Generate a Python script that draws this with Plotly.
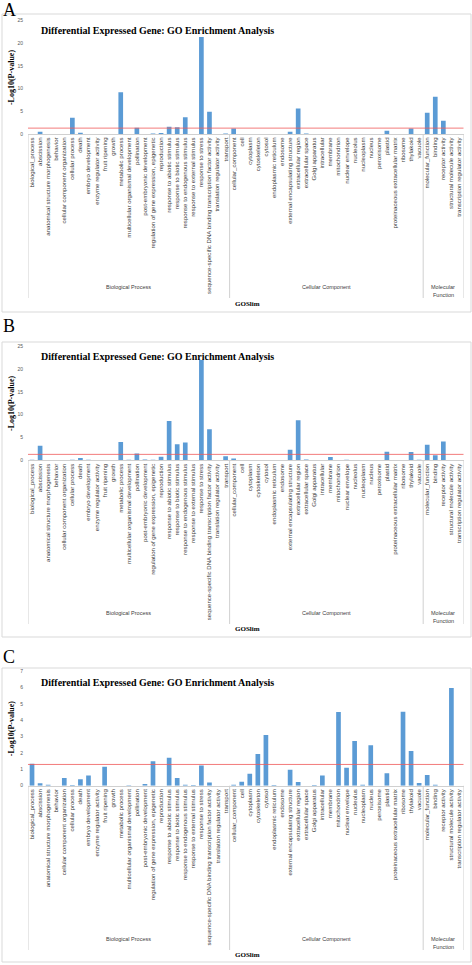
import plotly.graph_objects as go

# ---------------- data ----------------
bp_terms = [
    "biological_process", "abscission", "anatomical structure morphogenesis", "behavior",
    "cellular component organization", "cellular process", "death", "embryo development",
    "enzyme regulator activity", "fruit ripening", "growth", "metabolic process",
    "multicellular organismal development", "pollination", "post-embryonic development",
    "regulation of gene expression, epigenetic", "reproduction", "response to abiotic stimulus",
    "response to biotic stimulus", "response to endogenous stimulus", "response to external stimulus",
    "response to stress", "sequence-specific DNA binding transcription factor activity",
    "translation regulator activity", "transport",
]
cc_terms = [
    "cellular_component", "cell", "cytoplasm", "cytoskeleton", "cytosol", "endoplasmic reticulum",
    "endosome", "external encapsulating structure", "extracellular region", "extracellular space",
    "Golgi apparatus", "intracellular", "membrane", "mitochondrion", "nuclear envelope", "nucleolus",
    "nucleoplasm", "nucleus", "peroxisome", "plastid", "proteinaceous extracellular matrix",
    "ribosome", "thylakoid", "vacuole",
]
mf_terms = [
    "molecular_function", "binding", "receptor activity", "structural molecule activity",
    "transcription regulator activity",
]
categories = bp_terms + cc_terms + mf_terms
group_names = ["Biological Process", "Cellular Component", "Molecular Function"]

# -log10(P-value), panel A
values_a = [
    0.0, 0.5, 0.0, 0.0, 0.0, 3.6, 0.3, 0.0, 0.0, 0.0, 0.0, 9.2, 0.0, 1.4, 0.0, 0.1, 0.2, 1.6,
    1.5, 3.7, 0.0, 21.4, 4.9, 0.0, 0.1,
    1.2, 0.0, 0.0, 0.0, 0.0, 0.0, 0.0, 0.5, 5.6, 0.1, 0.0, 0.0, 0.0, 0.0, 0.0, 0.0, 0.0, 0.0,
    0.0, 0.7, 0.0, 0.0, 1.2, 0.0,
    4.7, 8.2, 2.9, 0.0, 0.0,
]
# panel B
values_b = [
    0.1, 3.2, 0.0, 0.0, 0.0, 0.1, 0.5, 0.1, 0.0, 0.0, 0.0, 4.0, 0.1, 1.5, 0.2, 0.1, 0.8, 8.6,
    3.5, 3.9, 0.0, 22.0, 6.8, 0.0, 0.9,
    0.4, 0.0, 0.0, 0.0, 0.0, 0.0, 0.0, 2.3, 8.8, 0.2, 0.0, 0.0, 0.7, 0.0, 0.1, 0.0, 0.0, 0.0,
    0.0, 1.9, 0.0, 0.0, 1.8, 0.1,
    3.4, 1.1, 4.1, 0.0, 0.0,
]
# panel C
values_c = [
    1.35, 0.15, 0.06, 0.0, 0.47, 0.05, 0.4, 0.63, 0.0, 1.16, 0.0, 0.0, 0.03, 0.0, 0.1, 1.49, 0.0,
    1.71, 0.47, 0.06, 0.04, 1.24, 0.2, 0.0, 0.0,
    0.06, 0.24, 0.73, 1.94, 3.1, 0.04, 0.0, 0.98, 0.22, 0.0, 0.05, 0.63, 0.0, 4.51, 1.1, 2.73,
    0.06, 2.47, 0.0, 0.76, 0.0, 4.53, 2.12, 0.16,
    0.65, 0.06, 0.0, 5.98, 0.0,
]
panel_letters = ["A", "B", "C"]
y_ranges = [[0, 25], [0, 25], [0, 7]]
y_dticks = [5, 5, 1]
threshold = 1.3  # -log10(0.05)
title_text = "Differential Expressed Gene: GO Enrichment Analysis"
y_title = "-Log10(P-value)"
x_title = "GOSlim"

# ---------------- layout (pixels) ----------------
W, H = 472, 965
panels = [
    dict(box=(2, 14, 471, 312), letter_y=9.5, top=20.7, zero=134.0, title_y=30.5,
         group_y=287, func_y=294.5, goslim_y=303.5, div_bottom=298),
    dict(box=(2, 342, 471, 637), letter_y=326, top=346.3, zero=460.3, title_y=356,
         group_y=613, func_y=620.5, goslim_y=629, div_bottom=624),
    dict(box=(2, 668, 471, 962), letter_y=656.5, top=671.3, zero=785.7, title_y=682,
         group_y=939, func_y=946.5, goslim_y=955, div_bottom=950),
]
X0, X1 = 28.0, 463.5


def py(y):
    return 1 - y / H


def px(x):
    return x / W


fig = go.Figure()
shapes, annotations = [], []
series = [values_a, values_b, values_c]
n = len(categories)
bounds = [-0.5, len(bp_terms) - 0.5, len(bp_terms) + len(cc_terms) - 0.5, n - 0.5]
centers = [(len(bp_terms) - 1) / 2,
           len(bp_terms) + (len(cc_terms) - 1) / 2,
           len(bp_terms) + len(cc_terms) + (len(mf_terms) - 1) / 2]

small = dict(family="Liberation Sans", size=5.5, color="#404040")


def ann(**kw):
    base = dict(showarrow=False, yanchor="middle", xanchor="center")
    base.update(kw)
    annotations.append(base)


layout_axes = {}
for k, (p, vals) in enumerate(zip(panels, series)):
    sfx = "" if k == 0 else str(k + 1)
    xa, ya = "x" + sfx, "y" + sfx
    fig.add_trace(go.Bar(x=categories, y=vals, marker_color="#5B9BD5", marker_line_width=0,
                         xaxis=xa, yaxis=ya, showlegend=False))
    layout_axes["xaxis" + sfx] = dict(
        domain=[px(X0), px(X1)], anchor=ya, type="category", range=[-0.5, n - 0.5],
        tickmode="array", tickvals=categories, ticktext=categories, tickangle=-90,
        tickfont=dict(family="Liberation Sans", size=6.1, color="#404040"),
        showline=True, linecolor="#D0D0D0", linewidth=1, ticks="", showgrid=False,
        zeroline=False, automargin=False, fixedrange=True, ticklabelstandoff=0,
    )
    layout_axes["yaxis" + sfx] = dict(
        domain=[py(p["zero"]), py(p["top"])], anchor=xa, range=y_ranges[k], dtick=y_dticks[k],
        tickfont=dict(family="Liberation Sans", size=5, color="#595959"),
        showline=False, ticks="", showgrid=False, zeroline=False, automargin=False,
        ticklabelstandoff=4, fixedrange=True,
    )
    # panel box
    bx0, by0, bx1, by1 = p["box"]
    shapes.append(dict(type="rect", xref="paper", yref="paper", x0=px(bx0), x1=px(bx1),
                       y0=py(by1), y1=py(by0), line=dict(color="#D9D9D9", width=1)))
    # threshold line
    shapes.append(dict(type="line", xref=xa + " domain", yref=ya, x0=0, x1=1,
                       y0=threshold, y1=threshold, line=dict(color="rgba(240,90,90,0.8)", width=1)))
    # group dividers
    for b in bounds:
        shapes.append(dict(type="line", xref=xa, yref="paper", x0=b, x1=b,
                           y0=py(p["div_bottom"]), y1=py(p["zero"]),
                           line=dict(color="#D0D0D0", width=1)))
    # group labels
    for g, (gname, c) in enumerate(zip(group_names, centers)):
        if g == 2:
            ann(x=c, y=py(p["group_y"]), xref=xa, yref="paper", text="Molecular", font=small)
            ann(x=c, y=py(p["func_y"]), xref=xa, yref="paper", text="Function", font=small)
        else:
            ann(x=c, y=py(p["group_y"]), xref=xa, yref="paper", text=gname, font=small)
    # GOSlim
    ann(x=px(247), y=py(p["goslim_y"]), xref="paper", yref="paper",
        text="<b>" + x_title + "</b>",
        font=dict(family="Liberation Serif", size=7, color="#000000"))
    # chart title
    ann(x=px(39), y=py(p["title_y"]), xref="paper", yref="paper",
        text="<b>" + title_text + "</b>", xanchor="left",
        font=dict(family="Liberation Serif", size=10, color="#000000"))
    # y title
    ann(x=px(11.7), y=py((p["top"] + p["zero"]) / 2), xref="paper", yref="paper",
        text="<b>" + y_title + "</b>", textangle=-90,
        font=dict(family="Liberation Serif", size=8, color="#000000"))
    # panel letter
    ann(x=px(1), y=py(p["letter_y"]), xref="paper", yref="paper",
        text=panel_letters[k], xanchor="left",
        font=dict(family="Liberation Serif", size=18, color="#000000"))

fig.update_layout(
    template="none", width=W, height=H, margin=dict(l=0, r=0, t=0, b=0),
    paper_bgcolor="white", plot_bgcolor="rgba(0,0,0,0)", bargap=0.42,
    shapes=shapes, annotations=annotations, showlegend=False, hovermode=False, **layout_axes,
)
fig.write_html(
    "out.html",
    config={"displayModeBar": False, "staticPlot": True},
    post_script="document.body.style.margin='0';document.body.style.overflow='hidden';",
)
